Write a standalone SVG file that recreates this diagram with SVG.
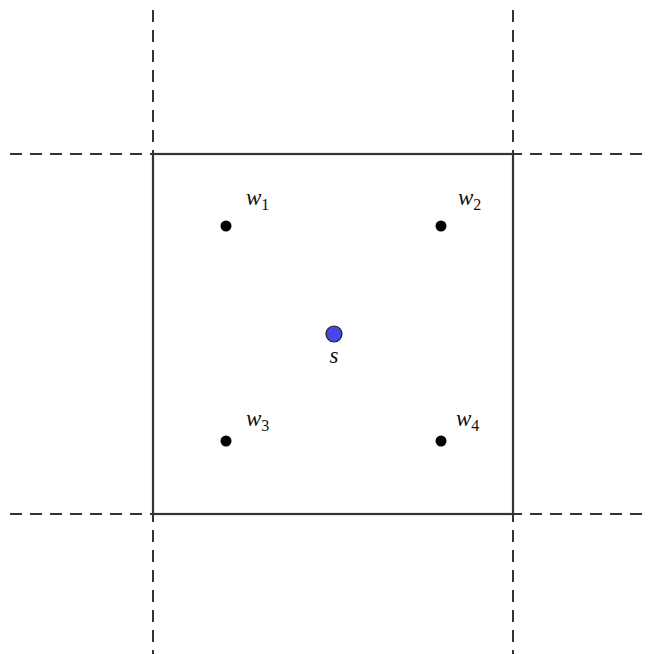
<svg xmlns="http://www.w3.org/2000/svg" width="648" height="654" viewBox="0 0 648 654">
<style>
.dash{stroke:#333;stroke-width:2;stroke-dasharray:12 8;fill:none}
.box{stroke:#333;stroke-width:2.2;fill:none}
.pt{fill:#000}
.lbl{font-family:"Liberation Serif","DejaVu Serif",serif;font-style:italic;font-size:23px;fill:#111}
.sub{font-style:normal;font-size:16px}
</style>
<rect width="648" height="654" fill="#fff"/>
<g id="connectors">
<line class="dash" x1="10" y1="154" x2="648" y2="154"/>
<line class="dash" x1="10" y1="514" x2="648" y2="514"/>
<line class="dash" x1="153" y1="10" x2="153" y2="654"/>
<line class="dash" x1="513" y1="10" x2="513" y2="654"/>
<rect class="box" x="153" y="154" width="360" height="360"/>
</g>
<g id="w1"><circle class="pt" cx="226" cy="226" r="5.5"/><text class="lbl" x="246" y="205">w<tspan class="sub" dy="5">1</tspan></text></g>
<g id="w2"><circle class="pt" cx="441" cy="226" r="5.5"/><text class="lbl" x="458" y="205">w<tspan class="sub" dy="5">2</tspan></text></g>
<g id="w3"><circle class="pt" cx="226" cy="441" r="5.5"/><text class="lbl" x="246" y="426">w<tspan class="sub" dy="5">3</tspan></text></g>
<g id="w4"><circle class="pt" cx="441" cy="441" r="5.5"/><text class="lbl" x="456" y="426">w<tspan class="sub" dy="5">4</tspan></text></g>
<g id="s"><circle cx="334" cy="334" r="8" fill="#4747e8" stroke="#222" stroke-width="1.2"/><text class="lbl" x="334" y="363" text-anchor="middle">s</text></g>
</svg>
